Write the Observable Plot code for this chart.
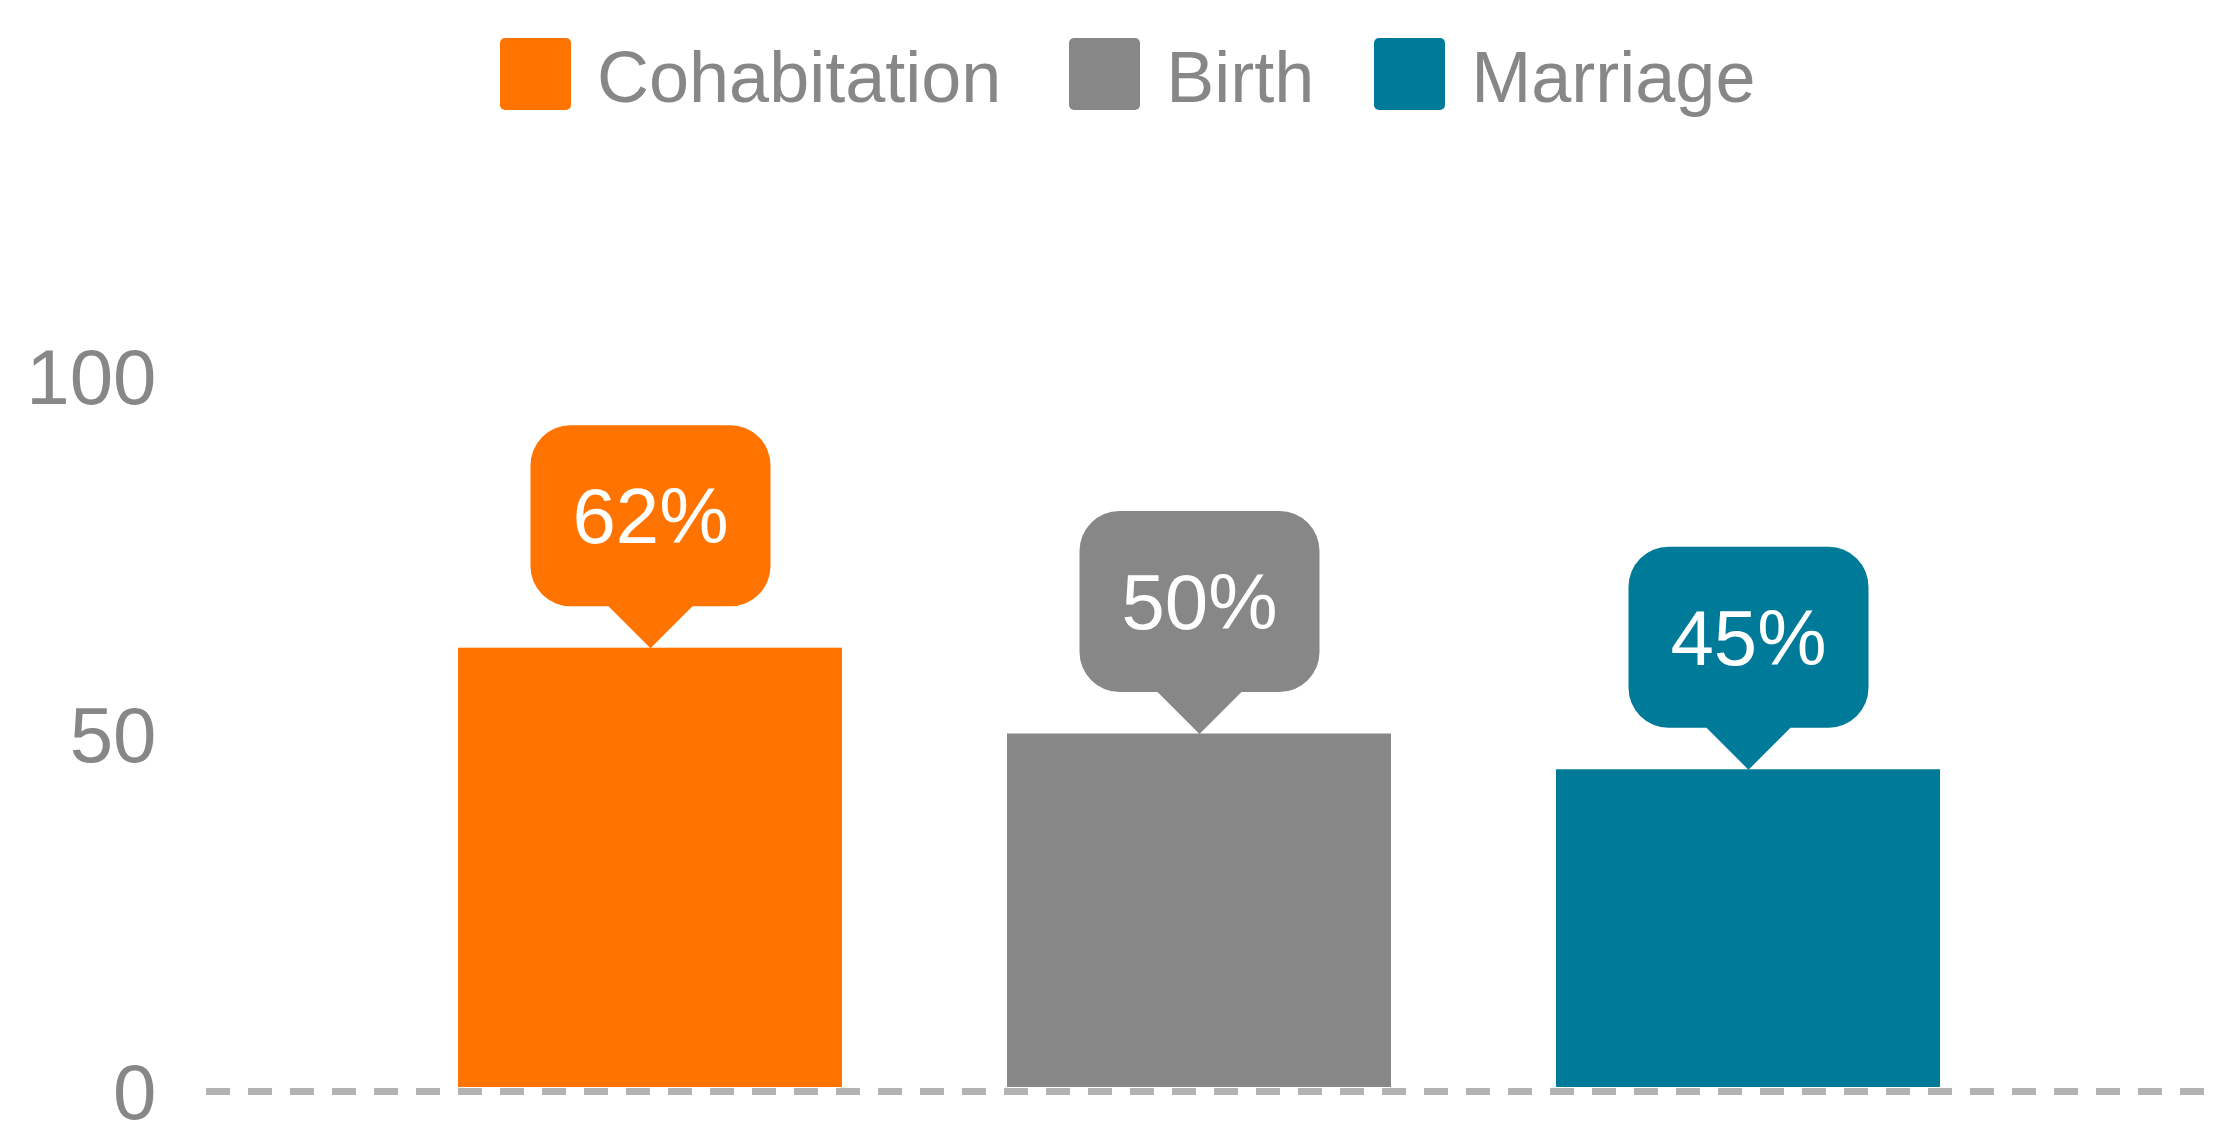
<!DOCTYPE html>
<html>
<head>
<meta charset="utf-8">
<script src="https://cdn.jsdelivr.net/npm/d3@7"></script>
<script src="https://cdn.jsdelivr.net/npm/@observablehq/plot@0.6"></script>
<style>
  html, body { margin: 0; padding: 0; background: #fff; }
  #wrap { width: 2227px; height: 1122px; overflow: hidden; font-family: "Liberation Sans", Arial, sans-serif; }
  #legend { height: 150px; box-sizing: border-box; padding-top: 38px; padding-left: 500px; display: flex; align-items: flex-start; }
  .item { display: flex; align-items: center; height: 72px; margin-right: 68px; }
  .item:nth-child(2) { margin-right: 60px; }
  .sw { width: 71px; height: 72px; border-radius: 5px; margin-right: 26px; }
  .lab { font-size: 72px; color: #878787; line-height: 72px; position: relative; top: 3px; }
  svg { display: block; }
</style>
</head>
<body>
<div id="wrap">
  <div id="legend"></div>
  <div id="chart"></div>
</div>
<script>
const categories = ["Cohabitation", "Birth", "Marriage"];
const values = [62, 50, 45];
const labels = ["62%", "50%", "45%"];
const colors = ["#ff7300", "#878787", "#007a99"];
const yTicks = [0, 50, 100];

const data = categories.map((c, i) => ({category: c, value: values[i], label: labels[i]}));

// Legend
const legend = document.getElementById("legend");
categories.forEach((c, i) => {
  const it = document.createElement("div");
  it.className = "item";
  const sw = document.createElement("div");
  sw.className = "sw";
  sw.style.background = colors[i];
  const lab = document.createElement("span");
  lab.className = "lab";
  lab.textContent = c;
  it.appendChild(sw);
  it.appendChild(lab);
  legend.appendChild(it);
});

// Callout bubble symbol: tip at origin, box above
const callout = {
  draw(ctx) {
    const hw = 120, ph = 42, pw = 42, top = 223, r = 40;
    ctx.moveTo(0, 0);
    ctx.lineTo(-pw, -ph);
    ctx.lineTo(-hw + r, -ph);
    ctx.arcTo(-hw, -ph, -hw, -top, r);
    ctx.arcTo(-hw, -top, hw, -top, r);
    ctx.arcTo(hw, -top, hw, -ph, r);
    ctx.arcTo(hw, -ph, -hw, -ph, r);
    ctx.lineTo(pw, -ph);
    ctx.closePath();
  }
};

const chart = Plot.plot({
  width: 2227,
  height: 972,
  marginLeft: 206,
  marginRight: 18,
  marginTop: 226,
  marginBottom: 31,
  style: {fontFamily: "'Liberation Sans', Arial, sans-serif", fontSize: "78px", color: "#878787", background: "white"},
  x: {domain: categories, paddingInner: 0.3, paddingOuter: 0.471, align: 0.484, axis: null},
  y: {domain: [0, 100], label: null},
  color: {domain: categories, range: colors},
  marks: [
    Plot.axisY({ticks: yTicks, tickSize: 0, tickPadding: 50, label: null, fontSize: 78, dy: 3}),
    Plot.barY(data, {x: "category", y: "value", fill: "category", insetBottom: 4}),
    Plot.ruleY([0], {stroke: "#b3b3b3", strokeWidth: 7, strokeDasharray: "24,18"}),
    Plot.dot(data, {x: "category", y: "value", fill: "category", symbol: callout, r: 10}),
    Plot.text(data, {x: "category", y: "value", text: "label", fill: "white", fontSize: 78, dy: -130, lineAnchor: "middle"})
  ]
});
document.getElementById("chart").appendChild(chart);
</script>
</body>
</html>
